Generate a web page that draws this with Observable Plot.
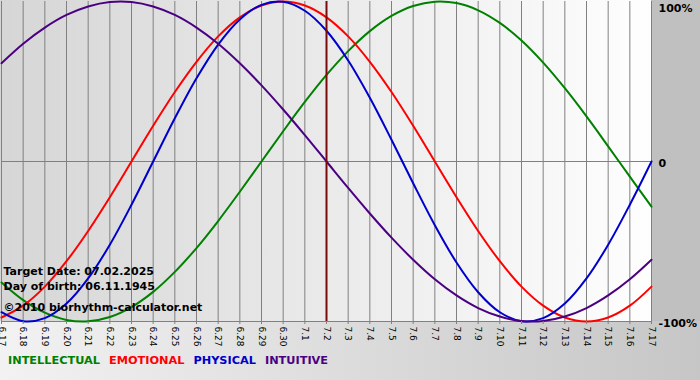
<!DOCTYPE html>
<html>
<head>
<meta charset="utf-8">
<script src="https://cdn.jsdelivr.net/npm/d3@7"></script>
<script src="https://cdn.jsdelivr.net/npm/@observablehq/plot@0.6"></script>
<style>
  html, body { margin: 0; padding: 0; }
  #wrap {
    position: relative; width: 700px; height: 380px; overflow: hidden;
    background:
      linear-gradient(to right, #d6d6d6, #fefefe) 0 0 / 651px 321px no-repeat,
      linear-gradient(#c0c0c0, #c0c0c0) 651px 0 / 49px 321px no-repeat,
      linear-gradient(to right, #f2f2f2, #c6c6c6) 0 321px / 700px 59px no-repeat;
    font-family: "DejaVu Sans", Verdana, sans-serif;
  }
  #chart svg { display: block; background: transparent; overflow: visible; }
  #legend { position: absolute; left: 8px; top: 354px; font-size: 11.3px; font-weight: bold; white-space: nowrap; }
  #legend span { margin-right: 9px; }
</style>
</head>
<body>
<div id="wrap">
  <div id="chart"></div>
  <div id="legend"></div>
</div>
<script>
// Day labels (month.day)
const days = ["6.17","6.18","6.19","6.20","6.21","6.22","6.23","6.24","6.25","6.26","6.27","6.28","6.29","6.30",
  "7.1","7.2","7.3","7.4","7.5","7.6","7.7","7.8","7.9","7.10","7.11","7.12","7.13","7.14","7.15","7.16","7.17"];
const targetDay = "7.2";

// Series values in percent, one per day
const intellectual = [-75.6,-86.6,-94.5,-99.0,-99.9,-97.2,-91.0,-81.5,-69.0,-54.1,-37.2,-18.9,0,18.9,37.2,54.1,69.0,81.5,91.0,97.2,99.9,99.0,94.5,86.6,75.6,61.8,45.8,28.2,9.5,-9.5,-28.2];
const emotional    = [-97.5,-90.1,-78.2,-62.3,-43.4,-22.3,0,22.3,43.4,62.3,78.2,90.1,97.5,100,97.5,90.1,78.2,62.3,43.4,22.3,0,-22.3,-43.4,-62.3,-78.2,-90.1,-97.5,-100,-97.5,-90.1,-78.2];
const physical     = [-94.2,-99.8,-97.9,-88.8,-73.1,-52.0,-27.0,0,27.0,52.0,73.1,88.8,97.9,99.8,94.2,81.7,63.1,39.8,13.6,-13.6,-39.8,-63.1,-81.7,-94.2,-99.8,-97.9,-88.8,-73.1,-52.0,-27.0,0];
const intuitive    = [61.4,73.6,83.7,91.6,96.9,99.7,99.7,96.9,91.6,83.7,73.6,61.4,47.6,32.5,16.5,0,-16.5,-32.5,-47.6,-61.4,-73.6,-83.7,-91.6,-96.9,-99.7,-99.7,-96.9,-91.6,-83.7,-73.6,-61.4];

const seriesNames  = ["INTELLECTUAL","EMOTIONAL","PHYSICAL","INTUITIVE"];
const seriesColors = ["#008000","#ff0000","#0000cc","#4b0082"];
const yTicks = [100, 0, -100];
const yTickLabels = ["100%", "0", "-100%"];

const infoLines = ["Target Date: 07.02.2025", "Day of birth: 06.11.1945", "\u00A92010 biorhythm-calculator.net"];

// day index positions for a linear x scale
const dayIdx = days.map((d, i) => i);
const targetIdx = days.indexOf(targetDay);

const seriesData = [intellectual, emotional, physical, intuitive];
const rows = [];
seriesData.forEach((vals, s) => vals.forEach((v, i) => rows.push({idx: i, value: v, series: seriesNames[s]})));

const fmtY = d => yTickLabels[yTicks.indexOf(d)];
const font = "DejaVu Sans, Verdana, sans-serif";

const chart = Plot.plot({
  width: 700,
  height: 350,
  marginLeft: 1,
  marginRight: 49,
  marginTop: 1,
  marginBottom: 29,
  style: {fontFamily: font, background: "transparent", color: "#000"},
  x: {type: "linear", domain: [0, days.length - 1], range: [1, 651]},
  y: {domain: [-100, 100], range: [321, 1]},
  color: {domain: seriesNames, range: seriesColors},
  marks: [
    Plot.ruleX(dayIdx, {stroke: "#808080", strokeWidth: 1, strokeOpacity: 1}),
    Plot.ruleY([0, -100], {stroke: "#808080", strokeWidth: 1}),
    Plot.line(rows, {x: "idx", y: "value", z: "series", stroke: "series", strokeWidth: 2, curve: "catmull-rom"}),
    Plot.ruleX([targetIdx], {stroke: "#7a0a0a", strokeWidth: 2}),
    Plot.axisX(dayIdx, {tickFormat: i => days[i], tickRotate: 90, tickSize: 3, tickPadding: 2, fontSize: 9, label: null, stroke: "#808080"}),
    Plot.axisY([100], {anchor: "right", tickSize: 0, tickPadding: 7, tickFormat: fmtY, fontSize: 11, fontWeight: "bold", label: null, dy: 7}),
    Plot.axisY([0, -100], {anchor: "right", tickSize: 0, tickPadding: 7, tickFormat: fmtY, fontSize: 11, fontWeight: "bold", label: null, dy: 2}),
    Plot.text([infoLines[0]], {frameAnchor: "bottom-left", dx: 2, dy: -47, fontSize: 11, fontWeight: "bold", fill: "#000"}),
    Plot.text([infoLines[1]], {frameAnchor: "bottom-left", dx: 2, dy: -32, fontSize: 11, fontWeight: "bold", fill: "#000"}),
    Plot.text([infoLines[2]], {frameAnchor: "bottom-left", dx: 2, dy: -11, fontSize: 11, fontWeight: "bold", fill: "#000"})
  ]
});
document.getElementById("chart").appendChild(chart);

const legend = document.getElementById("legend");
seriesNames.forEach((n, i) => {
  const s = document.createElement("span");
  s.textContent = n;
  s.style.color = seriesColors[i];
  legend.appendChild(s);
});
</script>
</body>
</html>
